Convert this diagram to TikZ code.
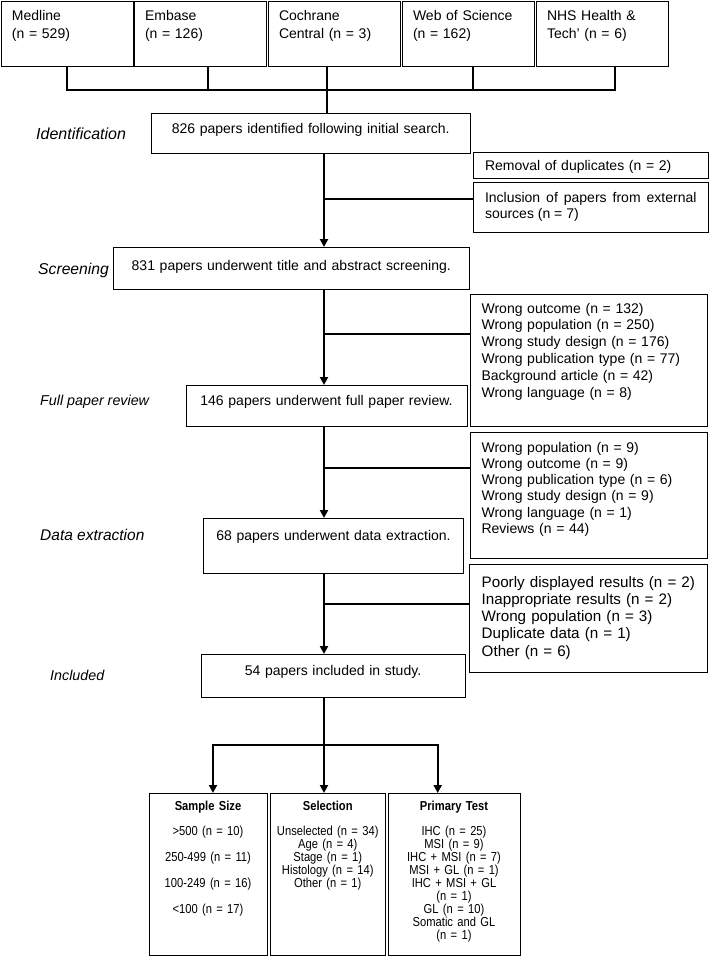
\documentclass[tikz,border=0pt]{standalone}
\usepackage{fontspec}
\setmainfont{Liberation Sans}
\newfontfamily\narrowfont[FakeStretch=0.86]{Liberation Sans}
\usetikzlibrary{arrows.meta}
\tikzset{
  box/.style={draw, line width=1pt, outer sep=0pt, inner ysep=0pt, font=\fontsize{14}{16.8}\selectfont},
  srcbox/.style={box, anchor=base west, inner xsep=11pt, text width=110pt, align=left, text height=19pt, text depth=46pt, font=\fontsize{14}{18}\selectfont},
  flowbox/.style={box, anchor=base, inner xsep=4pt, align=center},
  exclbox/.style={box, anchor=base west, align=left},
  sumbox/.style={box, anchor=base, inner xsep=2pt, align=center, text height=17pt, text depth=145pt, font=\narrowfont\fontsize{13}{12.9}\selectfont},
  stage/.style={anchor=base west, inner sep=0pt, font=\fontsize{#1}{18}\selectfont\itshape},
  link/.style={line width=2pt},
  arr/.style={link, -{Triangle[width=8pt,length=8pt]}},
}
\begin{document}
\begin{tikzpicture}[x=1pt, y=-1pt]
\useasboundingbox (0,0) rectangle (709,956);
\node[srcbox] (med) at (1,20) {Medline\\(n = 529)};
\node[srcbox] (emb) at (134,20) {Embase\\(n = 126)};
\node[srcbox] (coc) at (268,20) {Cochrane\\Central (n = 3)};
\node[srcbox] (wos) at (402,20) {Web of Science\\(n = 162)};
\node[srcbox] (nhs) at (536,20) {NHS Health \&\\Tech' (n = 6)};

\node[flowbox, text width=310.5pt, text height=20pt, text depth=20pt] (ident) at (310.75,133) {826 papers identified following initial search.};
\node[flowbox, text width=347.5pt, text height=23pt, text depth=19pt] (screen) at (291.25,270) {831 papers underwent title and abstract screening.};
\node[flowbox, text width=273pt, text height=20pt, text depth=21pt] (full) at (326.5,405) {146 papers underwent full paper review.};
\node[flowbox, text width=252pt, text height=22pt, text depth=33pt] (extract) at (333.5,540) {68 papers underwent data extraction.};
\node[flowbox, text width=256pt, text height=21pt, text depth=22pt] (incl) at (333,675) {54 papers included in study.};

\node[exclbox, inner xsep=11.5pt, text width=211.5pt, text height=18pt, text depth=8pt] (dup) at (473.5,170) {Removal of duplicates (n = 2)};
\node[exclbox, inner xsep=11.5pt, text width=211.5pt, text height=20pt, text depth=30pt, align=justify, font=\fontsize{14}{16}\selectfont] (ext) at (473.5,202) {Inclusion of papers from external sources (n = 7)};
\node[exclbox, inner xsep=11.6pt, text width=213.8pt, text height=19pt, text depth=113pt] (scrx) at (470,313) {Wrong outcome (n = 132)\\Wrong population (n = 250)\\Wrong study design (n = 176)\\Wrong publication type (n = 77)\\Background article (n = 42)\\Wrong language (n = 8)};
\node[exclbox, inner xsep=11.6pt, text width=213.8pt, text height=20pt, text depth=106pt, font=\fontsize{14}{16.3}\selectfont] (fullx) at (470,452) {Wrong population (n = 9)\\Wrong outcome (n = 9)\\Wrong publication type (n = 6)\\Wrong study design (n = 9)\\Wrong language (n = 1)\\Reviews (n = 44)};
\node[exclbox, inner xsep=12.7pt, text width=212.6pt, text height=23pt, text depth=85pt, font=\fontsize{15.2}{17.3}\selectfont] (extx) at (469,587) {\mbox{Poorly displayed results (n = 2)}\\\mbox{Inappropriate results (n = 2)}\\Wrong population (n = 3)\\Duplicate data (n = 1)\\Other (n = 6)};

\node[stage=16] (lid) at (36,139) {Identification};
\node[stage=15.7] (lsc) at (38,274.5) {Screening};
\node[stage=14.3] (lfu) at (40,405) {Full paper review};
\node[stage=15.5] (lda) at (40,540.5) {Data extraction};
\node[stage=14.3] (lin) at (50,680) {Included};

\node[sumbox, text width=114pt] (size) at (208,810) {\textbf{Sample Size}\\[13pt]>500 (n = 10)\\[13pt]250-499 (n = 11)\\[13pt]100-249 (n = 16)\\[13pt]<100 (n = 17)};
\node[sumbox, text width=110.5pt] (sel) at (327.75,810) {\textbf{Selection}\\[13pt]Unselected (n = 34)\\Age (n = 4)\\Stage (n = 1)\\Histology (n = 14)\\Other (n = 1)};
\node[sumbox, text width=128pt] (prim) at (454,810) {\textbf{Primary Test}\\[13pt]IHC (n = 25)\\MSI (n = 9)\\IHC + MSI (n = 7)\\MSI + GL (n = 1)\\IHC + MSI + GL\\(n = 1)\\GL (n = 10)\\Somatic and GL\\(n = 1)};

\coordinate (spine) at (324,0);
\coordinate (bus) at (0,90);
\coordinate (t1) at (med.south);
\coordinate (t2) at ([xshift=8pt]emb.south);
\coordinate (t3) at ([xshift=-7.5pt]coc.south);
\coordinate (t4) at ([xshift=5pt]wos.south);
\coordinate (t5) at ([xshift=13pt]nhs.south);
\coordinate (j1) at (324,199);
\coordinate (j2) at (324,334);
\coordinate (j3) at (324,468);
\coordinate (j4) at (324,604);
\coordinate (s1) at (213,745);
\coordinate (s3) at (437.7,745);

\draw[link] (t1) |- (t5 |- bus) -- (t5);
\draw[link] (t2) -- (t2 |- bus);
\draw[link] (t4) -- (t4 |- bus);
\draw[link] (t3) -- (t3 |- ident.north);
\draw[arr] (spine |- ident.south) -- (spine |- screen.north);
\draw[arr] (spine |- screen.south) -- (spine |- full.north);
\draw[arr] (spine |- full.south) -- (spine |- extract.north);
\draw[arr] (spine |- extract.south) -- (spine |- incl.north);
\draw[link] (j1) -- (j1 -| ext.west);
\draw[link] (j2) -- (j2 -| scrx.west);
\draw[link] (j3) -- (j3 -| fullx.west);
\draw[link] (j4) -- (j4 -| extx.west);
\draw[arr] (spine |- s1) -| (s1 |- size.north);
\draw[arr] (spine |- s1) -| (s3 |- prim.north);
\draw[arr] (spine |- incl.south) -- (spine |- sel.north);
\end{tikzpicture}
\end{document}
